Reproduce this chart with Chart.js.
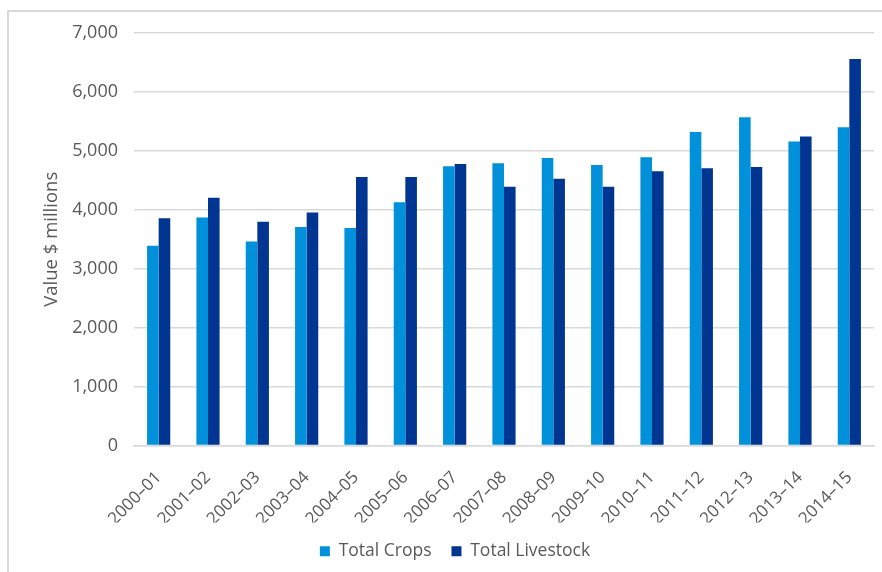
<!DOCTYPE html>
<html lang="en">

<head>
    <meta charset="UTF-8">
    <title>Value of crops and livestock</title>
    <script src="https://cdn.jsdelivr.net/npm/chart.js"></script>
    <style>
        body { margin: 0; background: #ffffff; }
        .frame {
            position: absolute;
            left: 7px;
            top: 10px;
            width: 875px;
            height: 566px;
            border-left: 2px solid #d9d9d9;
            border-top: 2px solid #d9d9d9;
        }
    </style>
</head>

<body>
    <div class="frame">
        <canvas id="myChart" width="875" height="558"></canvas>
    </div>

    <script>
        // years (financial years)
        const years = ['2000–01', '2001–02', '2002–03', '2003–04', '2004–05', '2005–06', '2006–07',
            '2007–08', '2008–09', '2009–10', '2010–11', '2011–12', '2012–13', '2013–14', '2014–15'];

        // values in $ millions
        const totalCrops = [3390, 3870, 3460, 3710, 3690, 4130, 4740, 4790, 4880, 4760, 4890, 5320, 5570, 5160, 5400];
        const totalLivestock = [3855, 4205, 3795, 3955, 4555, 4555, 4775, 4390, 4525, 4390, 4655, 4705, 4725, 5245, 6560];

        const yTicks = [0, 1000, 2000, 3000, 4000, 5000, 6000, 7000];

        const textColor = '#595959';
        const gridColor = '#d9d9d9';
        const fontFamily = '"Open Sans", "Noto Sans", sans-serif';

        const ctx = document.getElementById('myChart').getContext('2d');

        const myChart = new Chart(ctx, {
            type: 'bar',
            data: {
                labels: years,
                datasets: [
                    {
                        label: 'Total Crops',
                        data: totalCrops,
                        backgroundColor: 'rgb(0, 145, 218)',
                        borderWidth: 0
                    },
                    {
                        label: 'Total Livestock',
                        data: totalLivestock,
                        backgroundColor: 'rgb(0, 53, 145)',
                        borderWidth: 0
                    }
                ]
            },
            options: {
                responsive: false,
                animation: false,
                layout: {
                    padding: { top: 21, right: 10, left: 27, bottom: 0 }
                },
                datasets: {
                    bar: {
                        barPercentage: 1,
                        categoryPercentage: 0.47
                    }
                },
                scales: {
                    y: {
                        min: 0,
                        max: 7000,
                        afterBuildTicks: (scale) => {
                            scale.ticks = yTicks.map(v => ({ value: v }));
                        },
                        afterFit: (scale) => {
                            // fixed axis width, no extra padding from the labels
                            scale.width = 98;
                            scale.paddingTop = 0;
                            scale.paddingBottom = 0;
                        },
                        border: { display: false },
                        grid: {
                            color: gridColor,
                            lineWidth: 1.5,
                            drawTicks: false
                        },
                        ticks: {
                            color: textColor,
                            padding: 16,
                            font: { family: fontFamily, size: 18 },
                            callback: (v) => v.toLocaleString('en-US')
                        },
                        title: {
                            display: true,
                            text: 'Value $ millions',
                            color: textColor,
                            padding: { top: 5, bottom: 0 },
                            font: { family: fontFamily, size: 18.5 }
                        }
                    },
                    x: {
                        afterFit: (scale) => {
                            scale.height = 77;
                        },
                        border: { color: gridColor, width: 1.5 },
                        grid: { display: false },
                        ticks: {
                            color: textColor,
                            minRotation: 45,
                            maxRotation: 45,
                            padding: 14,
                            font: { family: fontFamily, size: 17 }
                        }
                    }
                },
                plugins: {
                    tooltip: { enabled: false },
                    legend: {
                        position: 'bottom',
                        labels: {
                            color: textColor,
                            boxWidth: 10,
                            boxHeight: 10,
                            padding: 20,
                            font: { family: fontFamily, size: 17.5 }
                        }
                    }
                }
            }
        });
    </script>
</body>

</html>
